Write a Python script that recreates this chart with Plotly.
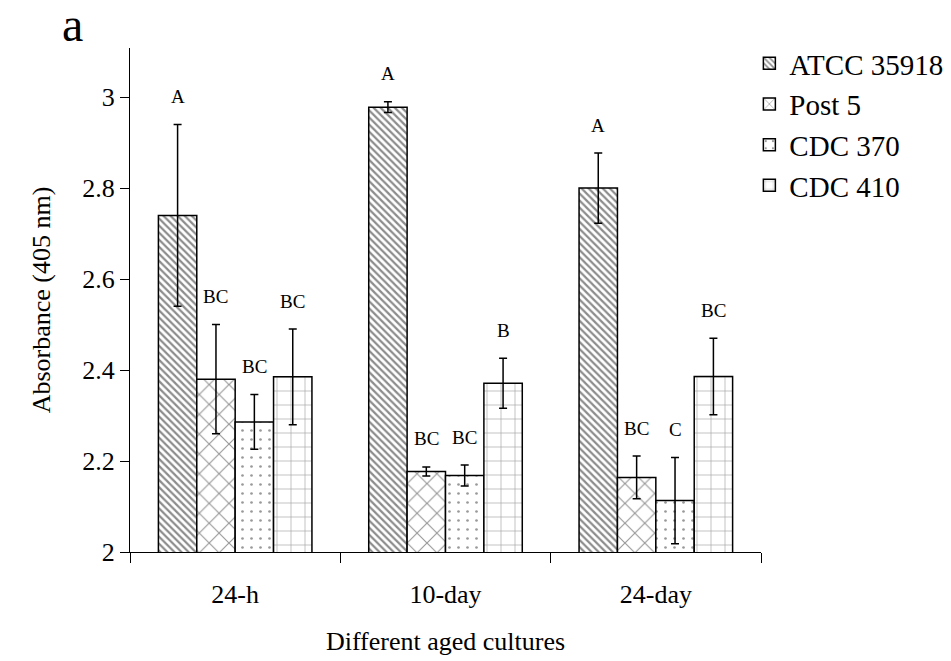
import plotly.graph_objects as go

categories = ["24-h", "10-day", "24-day"]
series_names = ["ATCC 35918", "Post 5", "CDC 370", "CDC 410"]
atcc_vals = [2.74, 2.978, 2.80]
atcc_err = [0.20, 0.012, 0.077]
post5_vals = [2.38, 2.177, 2.164]
post5_err = [0.12, 0.010, 0.047]
cdc370_vals = [2.286, 2.168, 2.113]
cdc370_err = [0.06, 0.023, 0.095]
cdc410_vals = [2.385, 2.371, 2.386]
cdc410_err = [0.105, 0.055, 0.084]
atcc_labels = ["A", "A", "A"]
post5_labels = ["BC", "BC", "BC"]
cdc370_labels = ["BC", "BC", "C"]
cdc410_labels = ["BC", "B", "BC"]
y_ticks = [2, 2.2, 2.4, 2.6, 2.8, 3]

FONT = "Liberation Serif"
values = [atcc_vals, post5_vals, cdc370_vals, cdc410_vals]
errors = [atcc_err, post5_err, cdc370_err, cdc410_err]
labels = [atcc_labels, post5_labels, cdc370_labels, cdc410_labels]
patterns = [
    dict(shape="\\", size=5, solidity=0.45, fgcolor="#1a1a1a", bgcolor="white"),
    dict(shape="x", size=14, solidity=0.16, fgcolor="#333", bgcolor="white"),
    dict(shape=".", size=9, solidity=0.07, fgcolor="#333", bgcolor="white"),
    dict(shape="+", size=14, solidity=0.09, fgcolor="#444", bgcolor="white"),
]

bargap = 0.27
n = len(series_names)
bw = (1 - bargap) / n

fig = go.Figure()
annotations = []
for i, name in enumerate(series_names):
    fig.add_trace(go.Bar(
        name=name, x=categories, y=values[i],
        marker=dict(color="white", pattern=patterns[i],
                    line=dict(color="black", width=1.5)),
        error_y=dict(type="data", array=errors[i], color="black",
                     thickness=1.5, width=4),
    ))
    off = -0.5 * (1 - bargap) + bw * (i + 0.5)
    for j in range(len(categories)):
        annotations.append(dict(
            x=j + off, y=values[i][j] + errors[i][j], xref="x", yref="y",
            text=labels[i][j], showarrow=False, yshift=28, yanchor="middle",
            font=dict(family=FONT, size=19, color="black")))

annotations.append(dict(
    xref="paper", yref="paper", x=(64 - 122) / 632, y=(544 - 17) / 504,
    text="a", showarrow=False, xanchor="center", yanchor="middle",
    font=dict(family=FONT, size=48, color="black")))

fig.update_layout(
    width=951, height=661,
    margin=dict(l=122, r=197, t=40, b=117),
    paper_bgcolor="white", plot_bgcolor="white",
    barmode="group", bargap=bargap, bargroupgap=0,
    font=dict(family=FONT, size=26, color="black"),
    showlegend=True,
    legend=dict(x=0.98, y=1.02, xanchor="left", yanchor="top",
                font=dict(family=FONT, size=29, color="black"),
                bgcolor="rgba(0,0,0,0)", itemwidth=30, tracegroupgap=0),
    annotations=annotations,
)
fig.update_xaxes(
    showline=True, linecolor="black", linewidth=1.2,
    ticks="outside", ticklen=10, tickcolor="black", tickwidth=1.2,
    tickson="boundaries", showgrid=False, ticklabelstandoff=19,
    title=dict(text="Different aged cultures", standoff=23,
               font=dict(family=FONT, size=26)),
    tickfont=dict(family=FONT, size=26),
)
fig.update_yaxes(
    range=[2, 3.108], tickvals=y_ticks, ticktext=[str(v) for v in y_ticks],
    showline=True, linecolor="black", linewidth=1.2,
    ticks="outside", ticklen=9, tickcolor="black", tickwidth=1.2,
    showgrid=False, zeroline=False,
    title=dict(text="Absorbance (405 nm)", standoff=24,
               font=dict(family=FONT, size=26)),
    tickfont=dict(family=FONT, size=26),
)

fig.write_html("out.html")
